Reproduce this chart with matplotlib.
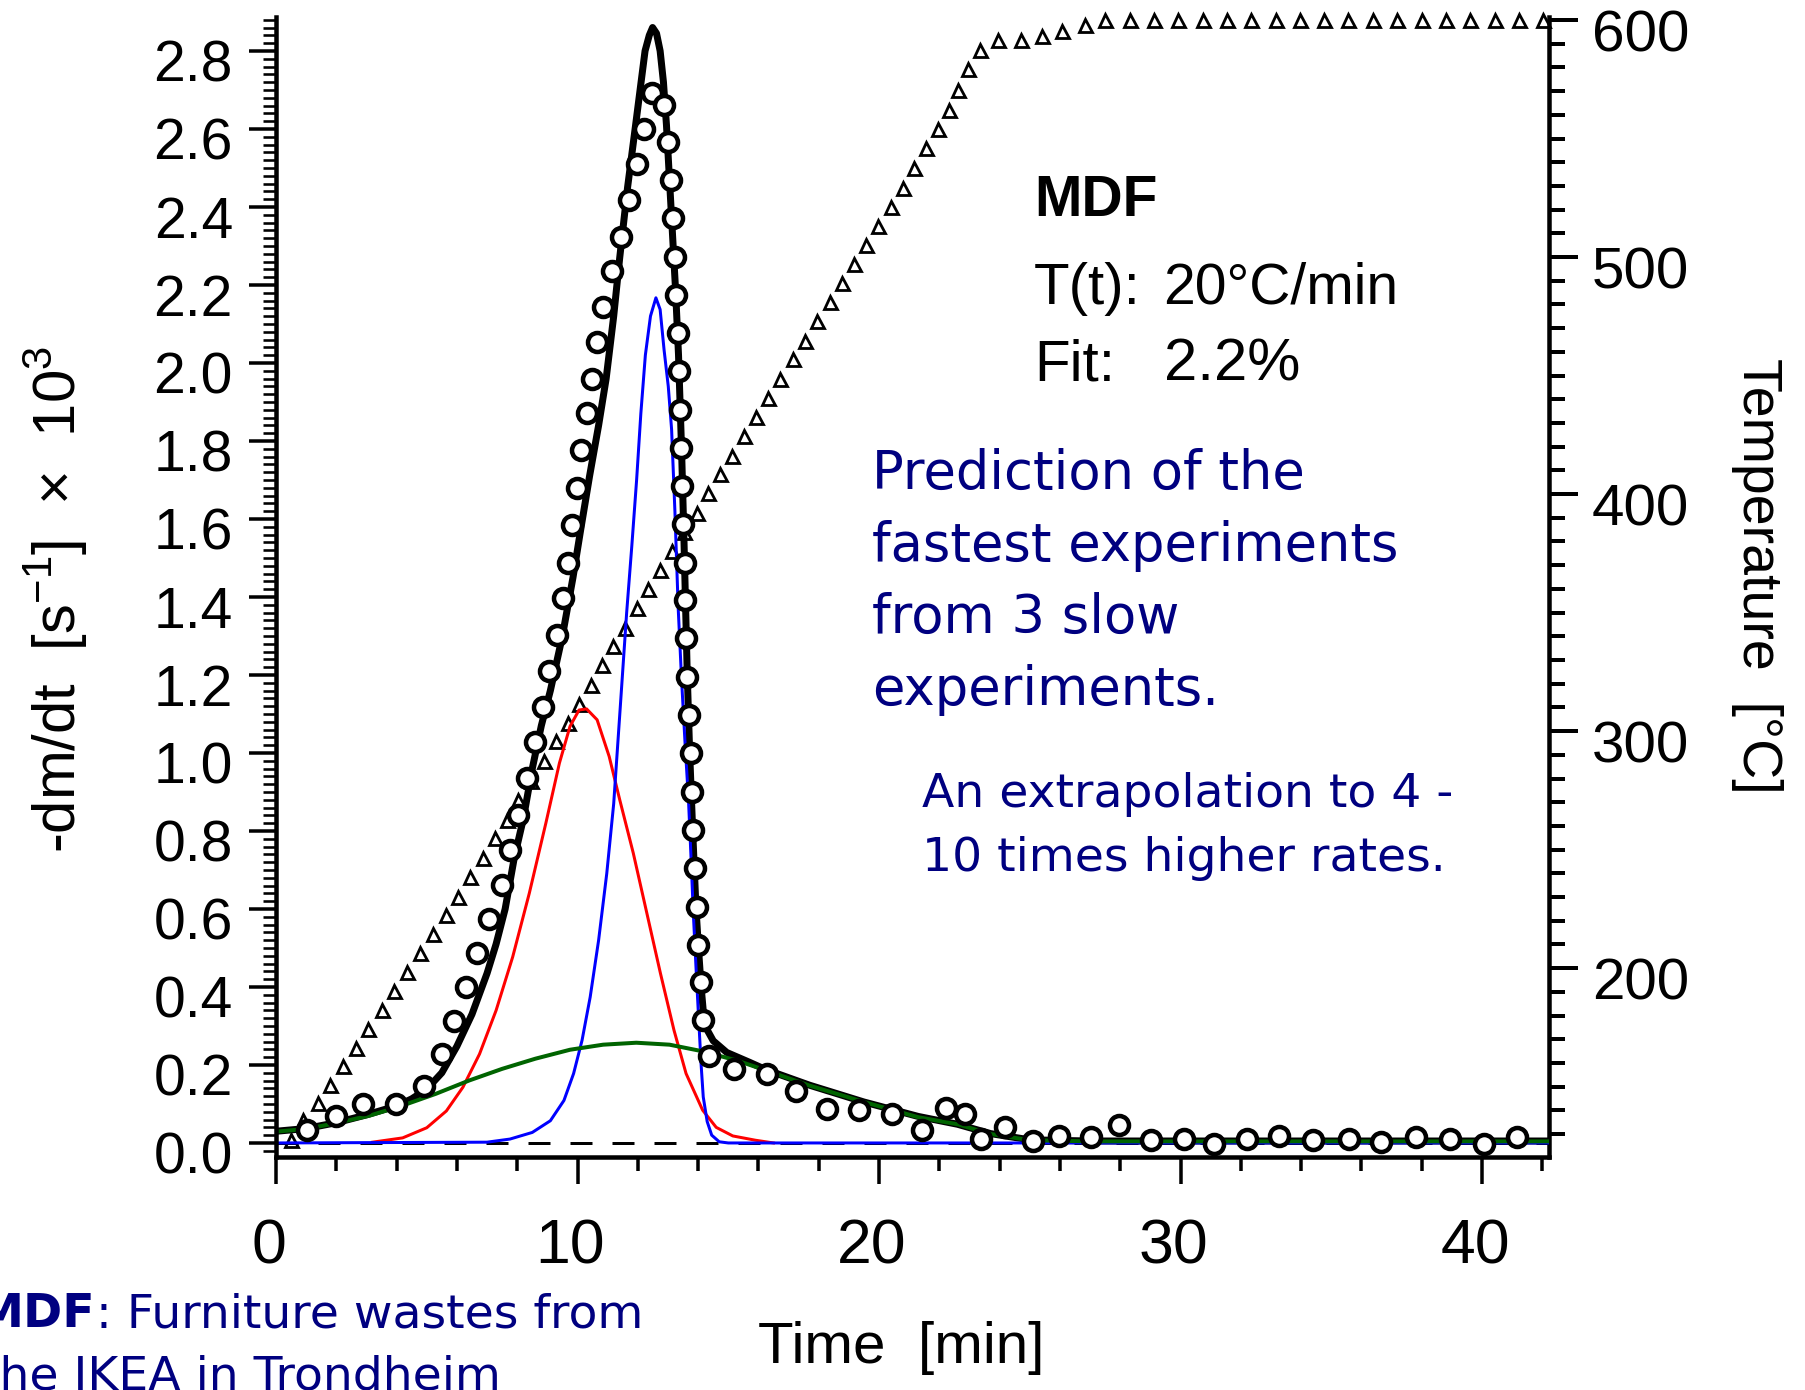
import matplotlib
matplotlib.use('Agg')
import matplotlib.pyplot as plt
from matplotlib.ticker import MultipleLocator, FormatStrFormatter
from matplotlib.transforms import ScaledTranslation

# =========================
# data
# =========================
# experimental -dm/dt points (circles)
t_exp = [1.02, 1.98, 2.90, 3.97, 4.92, 5.49, 5.91, 6.30, 6.68, 7.06, 7.49, 7.76, 8.04, 8.31, 8.59,
         8.85, 9.07, 9.31, 9.53, 9.70, 9.83, 9.97, 10.11, 10.30, 10.47, 10.64, 10.84, 11.13, 11.44,
         11.71, 11.96, 12.21, 12.48,
         12.88, 12.99, 13.09, 13.18, 13.23, 13.27, 13.32, 13.38, 13.40, 13.44, 13.48, 13.51, 13.55,
         13.57, 13.60, 13.63, 13.70, 13.75, 13.80, 13.84, 13.90, 13.95, 14.01, 14.10, 14.17, 14.37,
         15.19, 16.28, 17.26, 18.29, 19.34, 20.43, 21.43, 22.22, 22.85, 23.38, 24.18, 25.11, 25.98,
         27.02, 27.97, 29.02, 30.11, 31.11, 32.22, 33.26, 34.38, 35.59, 36.66, 37.81, 38.95, 40.08, 41.17]
y_exp = [0.032, 0.069, 0.100, 0.100, 0.147, 0.227, 0.313, 0.400, 0.487, 0.574, 0.661, 0.751, 0.842, 0.936, 1.027,
         1.118, 1.211, 1.303, 1.397, 1.488, 1.585, 1.679, 1.776, 1.872, 1.960, 2.053, 2.144, 2.235, 2.324,
         2.417, 2.509, 2.601, 2.693,
         2.661, 2.567, 2.469, 2.371, 2.272, 2.174, 2.077, 1.979, 1.880, 1.782, 1.685, 1.588, 1.488,
         1.393, 1.294, 1.196, 1.097, 1.001, 0.900, 0.802, 0.704, 0.605, 0.507, 0.413, 0.314, 0.223,
         0.190, 0.176, 0.132, 0.087, 0.085, 0.075, 0.032, 0.089, 0.075, 0.010, 0.042, 0.006, 0.019,
         0.015, 0.045, 0.008, 0.010, -0.002, 0.010, 0.017, 0.008, 0.010, 0.002, 0.015, 0.010, -0.002, 0.015]

# total fit (black)
t_fit = [0, 1, 2, 3, 4, 4.5, 5, 5.5, 6, 6.5, 7, 7.3, 7.6, 7.9, 8.2, 8.5, 8.8, 9.1, 9.5, 9.85,
         10.1, 10.4, 10.7, 10.95, 11.2, 11.4, 11.66, 11.96, 12.24, 12.38, 12.49, 12.62, 12.74, 12.85, 12.95,
         13.05, 13.15, 13.25, 13.35, 13.45, 13.52, 13.58, 13.64, 13.72, 13.82, 13.93, 14.02, 14.1, 14.18, 14.3,
         14.5, 14.95, 15.7, 16.25, 17.7, 19.5, 21.3, 22.6, 23.7, 25.0, 27.0, 42.3]
y_fit = [0.030, 0.037, 0.052, 0.072, 0.095, 0.113, 0.138, 0.180, 0.248, 0.330, 0.435, 0.51, 0.60, 0.73, 0.83,
         0.96, 1.07, 1.16, 1.30, 1.45, 1.57, 1.71, 1.84, 1.96, 2.12, 2.27, 2.45, 2.63, 2.80, 2.84, 2.86, 2.845,
         2.80, 2.72, 2.61, 2.47, 2.33, 2.19, 2.02, 1.78, 1.58, 1.39, 1.20, 1.00, 0.80, 0.60, 0.49, 0.40, 0.33,
         0.29, 0.262, 0.232, 0.207, 0.188, 0.148, 0.105, 0.068, 0.048, 0.024, 0.008, 0.005, 0.005]

# partial curves
t_red = [3.2, 4.2, 5.0, 5.65, 6.2, 6.75, 7.3, 7.85, 8.4, 8.95, 9.4, 9.75, 10.05, 10.3, 10.65, 11.05,
         11.4, 11.85, 12.3, 12.75, 13.2, 13.6, 14.15, 14.6, 15.15, 15.9, 16.5]
y_red = [0.002, 0.013, 0.039, 0.082, 0.143, 0.228, 0.340, 0.477, 0.640, 0.820, 0.974, 1.068, 1.110, 1.113,
         1.085, 0.991, 0.880, 0.743, 0.589, 0.435, 0.289, 0.178, 0.084, 0.040, 0.018, 0.007, 0.0]

t_blue = [0, 7.0, 7.76, 8.5, 9.1, 9.55, 9.87, 10.15, 10.42, 10.7, 10.97, 11.2, 11.42, 11.63, 11.8,
          11.96, 12.1, 12.25, 12.42, 12.6, 12.74, 12.87, 13.01, 13.12, 13.23, 13.34, 13.45, 13.57, 13.68,
          13.76, 13.84, 13.93, 14.01, 14.1, 14.17, 14.3, 14.45, 14.7, 15.0, 42.3]
y_blue = [0, 0.002, 0.010, 0.027, 0.057, 0.109, 0.178, 0.263, 0.374, 0.520, 0.691, 0.87, 1.12, 1.36, 1.53,
          1.70, 1.87, 2.02, 2.12, 2.167, 2.137, 2.034, 1.94, 1.83, 1.62, 1.37, 1.19, 1.02, 0.88,
          0.74, 0.59, 0.45, 0.33, 0.20, 0.118, 0.055, 0.02, 0.003, 0, 0]

t_green = [0, 1.0, 2.0, 3.1, 4.2, 5.3, 6.4, 7.5, 8.6, 9.75, 10.85, 11.95, 13.05, 14.15, 15.3, 16.25,
           17.7, 19.5, 21.3, 22.6, 23.7, 25.0, 27.0, 42.3]
y_green = [0.029, 0.036, 0.051, 0.070, 0.096, 0.126, 0.160, 0.190, 0.216, 0.239, 0.252, 0.257, 0.252,
           0.235, 0.211, 0.186, 0.147, 0.105, 0.066, 0.048, 0.023, 0.007, 0.004, 0.004]

# temperature (triangles, right axis)
t_temp = [0.49, 0.91, 1.38, 1.79, 2.23, 2.65, 3.06, 3.50, 3.91, 4.36,
          4.78, 5.22, 5.64, 6.05, 6.43, 6.85, 7.26, 7.65, 8.04, 8.47,
          8.90, 9.27, 9.67, 10.06, 10.45, 10.80, 11.19, 11.58, 11.96, 12.35,
          12.74, 13.12, 13.53, 13.95, 14.34, 14.73, 15.11, 15.52, 15.92, 16.33,
          16.73, 17.14, 17.54, 17.95, 18.36, 18.76, 19.17, 19.57, 19.98, 20.39,
          20.79, 21.17, 21.56, 21.94, 22.33, 22.61, 22.96, 23.34,
          23.95, 24.72, 25.39, 26.06, 26.83,
          27.50, 28.31, 29.11, 29.92, 30.73, 31.54, 32.34, 33.15, 33.96, 34.77,
          35.57, 36.38, 37.19, 38.00, 38.80, 39.61, 40.42, 41.23, 42.03]
temp = [127.3, 136.1, 143.2, 150.6, 158.7, 166.1, 174.5, 182.3, 190.3, 198.2,
        206.2, 214.2, 222.4, 230.2, 238.6, 246.4, 254.8, 262.6, 271.0, 279.0,
        287.2, 295.7, 303.6, 311.5, 319.5, 327.8, 335.8, 343.6, 352.0, 359.8,
        367.8, 376.0, 384.0, 392.2, 400.6, 408.4, 416.1, 424.6, 432.6, 440.7,
        448.7, 456.8, 464.8, 472.9, 480.9, 489.0, 497.0, 505.1, 513.1, 521.2,
        529.2, 537.7, 546.2, 554.1, 562.2, 570.7, 579.2, 587.3,
        591.5, 591.8, 593.4, 595.2, 598.1,
        600, 600, 600, 600, 600, 600, 600, 600, 600, 600,
        600, 600, 600, 600, 600, 600, 600, 600, 600]

blue_lines = ["Prediction of the", "fastest experiments", "from 3 slow", "experiments."]
note_lines = ["An extrapolation to 4 -", "10 times higher rates."]

# =========================
# layout helpers (pixels)
# =========================
W, H, DPI = 1806, 1390, 100


def px(v):
    return v * 72.0 / DPI


def fx(x):
    return x / W


def fy(y):
    return 1 - y / H


plt.rcParams['lines.scale_dashes'] = False
NARROW = ['Liberation Sans Narrow', 'Liberation Sans', 'DejaVu Sans']
REG = ['Liberation Sans', 'DejaVu Sans']
NAVY = '#000080'

fig = plt.figure(figsize=(W / DPI, H / DPI), dpi=DPI)
ax = fig.add_axes([fx(276), fy(1157), (1549 - 276) / W, (1157 - 17) / H])
ax2 = ax.twinx()
ax.set_zorder(ax2.get_zorder() + 1)
ax.patch.set_visible(False)

# temperature on the right axis (drawn underneath)
ax2.plot(t_temp, temp, linestyle='none', marker='^', ms=px(13), mfc='white',
         mec='black', mew=px(2.8), clip_on=False)

# curves
ax.axhline(0, color='black', lw=px(3), dashes=(px(22), px(20)))
ax.plot(t_fit, y_fit, color='black', lw=px(7), solid_joinstyle='round', solid_capstyle='round')
ax.plot(t_red, y_red, color='#ff0000', lw=px(3))
ax.plot(t_blue, y_blue, color='#0000ff', lw=px(3))
ax.plot(t_green, y_green, color='#006400', lw=px(4))
ax.plot(t_exp, y_exp, linestyle='none', marker='o', ms=px(19), mfc='white',
        mec='black', mew=px(4.5), clip_on=False)

# ===== axes =====
ax.set_xlim(0, 42.22)
ax.set_ylim(-0.036, 2.887)
ax2.set_ylim(120.3, 601.3)

for s in ['top', 'right']:
    ax.spines[s].set_visible(False)
for s in ['top', 'left', 'bottom']:
    ax2.spines[s].set_visible(False)
for s in ['left', 'bottom']:
    ax.spines[s].set_linewidth(px(4.5))
ax2.spines['right'].set_linewidth(px(4.5))

ax.xaxis.set_major_locator(MultipleLocator(10))
ax.xaxis.set_minor_locator(MultipleLocator(2))
ax.xaxis.set_major_formatter(FormatStrFormatter('%d'))
ax.yaxis.set_major_locator(MultipleLocator(0.2))
ax.yaxis.set_minor_locator(MultipleLocator(0.02))
ax.yaxis.set_major_formatter(FormatStrFormatter('%.1f'))
ax2.yaxis.set_major_locator(MultipleLocator(100))
ax2.yaxis.set_minor_locator(MultipleLocator(10))
ax2.yaxis.set_major_formatter(FormatStrFormatter('%d'))

ax.tick_params(axis='y', which='major', direction='out', length=px(27), width=px(3.5),
               pad=px(16), labelsize=41, labelfontfamily=REG)
ax.tick_params(axis='y', which='minor', direction='out', length=px(13), width=px(2.6))
ax.tick_params(axis='x', which='major', direction='out', length=px(27), width=px(3.5),
               pad=px(34), labelsize=45, labelfontfamily=REG)
ax.tick_params(axis='x', which='minor', direction='out', length=px(14), width=px(3.5))
ax2.tick_params(axis='y', which='major', direction='out', length=px(29), width=px(4),
                pad=px(14), labelsize=42, labelfontfamily=NARROW)
ax2.tick_params(axis='y', which='minor', direction='out', length=px(16), width=px(4))

# ===== axis titles =====
fig.text(fx(56), fy(599), '-dm/dt  [s$^{\\mathregular{-1}}$]  \u00d7  10$^{\\mathregular{3}}$',
         rotation=90, ha='center', va='center', fontsize=43, family=REG)
fig.text(fx(1757), fy(576), 'Temperature  [\u00b0C]', rotation=-90, ha='center', va='center',
         fontsize=40, family=NARROW)
fig.text(fx(901), fy(1348), 'Time  [min]', ha='center', va='center', fontsize=42, family=NARROW)

# ===== annotations =====
fig.text(fx(1034), fy(216), 'MDF', ha='left', va='baseline', fontsize=41,
         fontweight='bold', family=NARROW)
fig.text(fx(1034), fy(304), 'T(t):', ha='left', va='baseline', fontsize=42, family=NARROW)
fig.text(fx(1163), fy(304), '20\u00b0C/min', ha='left', va='baseline', fontsize=41, family=NARROW)
fig.text(fx(1034), fy(380), 'Fit:', ha='left', va='baseline', fontsize=42, family=NARROW)
fig.text(fx(1164), fy(380), '2.2%', ha='left', va='baseline', fontsize=43, family=NARROW)

for i, line in enumerate(blue_lines):
    fig.text(fx(872), fy(489 + 72 * i), line, ha='left', va='baseline', fontsize=38,
             color=NAVY, family='DejaVu Sans')
for i, line in enumerate(note_lines):
    fig.text(fx(922), fy(807 + 64 * i), line, ha='left', va='baseline', fontsize=34,
             color=NAVY, family='DejaVu Sans')

fig.text(fx(95), fy(1327), 'MDF', ha='right', va='baseline', fontsize=34, fontweight='bold',
         color=NAVY, family='DejaVu Sans')
fig.text(fx(643), fy(1327), ': Furniture wastes from', ha='right', va='baseline', fontsize=34,
         color=NAVY, family='DejaVu Sans')
fig.text(fx(501), fy(1389), 'the IKEA in Trondheim', ha='right', va='baseline', fontsize=34,
         color=NAVY, family='DejaVu Sans')

# tick labels in the original sit a little low / left of their ticks
fig.canvas.draw()
down = ScaledTranslation(0, -10 / DPI, fig.dpi_scale_trans)
left = ScaledTranslation(-7 / DPI, 0, fig.dpi_scale_trans)
for lbl in ax.yaxis.get_majorticklabels() + ax2.yaxis.get_majorticklabels():
    lbl.set_transform(lbl.get_transform() + down)
for lbl in ax.xaxis.get_majorticklabels():
    lbl.set_transform(lbl.get_transform() + left)

fig.savefig('out.png', dpi=DPI)
plt.close(fig)
